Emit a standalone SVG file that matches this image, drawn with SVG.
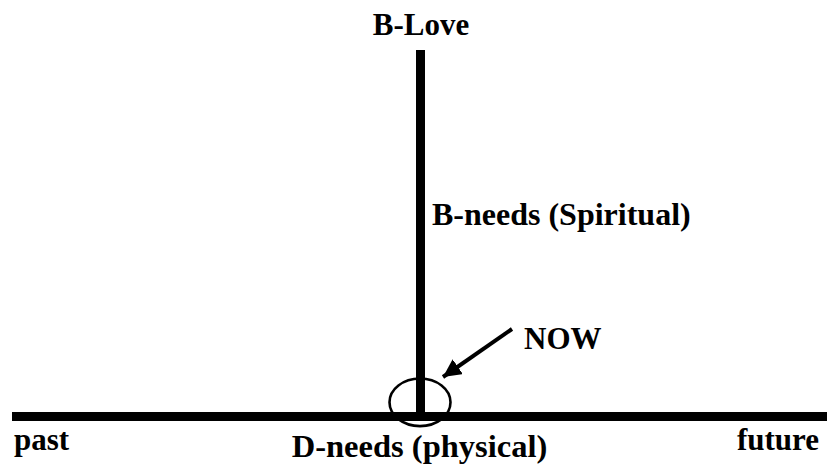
<svg xmlns="http://www.w3.org/2000/svg" width="827" height="470" viewBox="0 0 827 470">
<style>
.t{font-family:'Liberation Serif','DejaVu Serif',serif;font-weight:700;font-size:31px;fill:#000}
.ax{stroke:#000;stroke-width:9;fill:none}
</style>
<defs>
<marker id="ah" markerUnits="userSpaceOnUse" markerWidth="20" markerHeight="18" refX="18" refY="9" orient="auto">
<path d="M0,0 L18,9 L0,18 Z" fill="#000"/>
</marker>
</defs>
<rect width="827" height="470" fill="#fff"/>
<g id="connectors">
<line class="ax" x1="12" y1="416.5" x2="827" y2="416.5"/>
<line class="ax" x1="420.5" y1="50" x2="420.5" y2="416"/>
<line x1="512" y1="329" x2="443" y2="377" stroke="#000" stroke-width="4" marker-end="url(#ah)"/>
</g>
<g id="now-circle">
<ellipse cx="420" cy="402.3" rx="30.5" ry="23.8" fill="none" stroke="#000" stroke-width="2.6"/>
</g>
<g id="b-love"><text class="t" x="421" y="35" text-anchor="middle">B-Love</text></g>
<g id="b-needs"><text class="t" x="432" y="225" style="font-size:32px">B-needs (Spiritual)</text></g>
<g id="now"><text class="t" x="524" y="349">NOW</text></g>
<g id="past"><text class="t" x="14" y="450">past</text></g>
<g id="future"><text class="t" x="819" y="450" text-anchor="end">future</text></g>
<g id="d-needs"><text class="t" x="419.5" y="457" text-anchor="middle" style="font-size:32.5px">D-needs (physical)</text></g>
</svg>
